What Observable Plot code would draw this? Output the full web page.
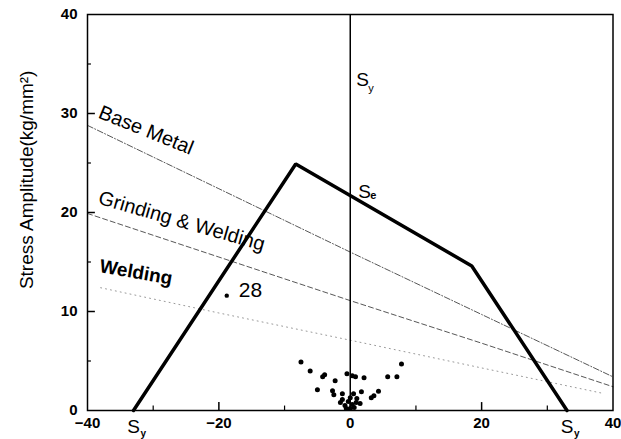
<!DOCTYPE html>
<html><head><meta charset="utf-8">
<script src="https://cdn.jsdelivr.net/npm/d3@7"></script>
<script src="https://cdn.jsdelivr.net/npm/@observablehq/plot@0.6"></script>
<style>html,body{margin:0;padding:0;background:#fff;overflow:hidden}</style>
</head><body><div id="chart"></div>
<script>
const xTicks = [-40, -20, 0, 20, 40];
const xMajorInner = [-20, 0, 20];
const xMinorTicks = [-30, -10, 10, 30];
const yTicks = [0, 10, 20, 30, 40];
const yMajorInner = [10, 20, 30];
const yMinorTicks = [5, 15, 25, 35];

const goodmanX = [-33, -8.3, 18.5, 33];
const goodmanY = [0, 24.9, 14.6, 0];

const baseMetalX = [-40, -20, 0, 20, 40];
const baseMetalY = [28.8, 22.4, 16.0, 9.7, 3.4];
const grindingX = [-40, -20, 0, 20, 40];
const grindingY = [19.9, 15.5, 11.1, 6.8, 2.4];
const weldingX = [-38, -20, 0, 20, 38.7];
const weldingY = [12.4, 9.85, 7.1, 4.3, 1.7];

const specimenX = [-7.5, -6.1, -4.2, -3.9, -2.3, -5.0, -2.7, -2.5, -1.2, -0.5, 0.3, 0.8, 2.1, 1.7, 0.5, 3.2, 3.6, 4.3, 5.7, 7.1, 7.8,
  -1.5, -0.8, -0.3, 0.3, 0.9, 1.5, 0.0, -0.6, 0.6, -1.2, 1.0, 0.0];
const specimenY = [4.9, 4.0, 3.4, 3.6, 3.0, 2.1, 2.0, 1.6, 1.7, 3.7, 3.5, 3.4, 3.3, 1.9, 1.7, 1.3, 1.5, 1.95, 3.4, 3.4, 4.7,
  0.8, 0.5, 0.9, 0.6, 0.8, 0.7, 0.2, 0.2, 0.3, 1.1, 1.2, 1.3];

const outlierX = [-18.8];
const outlierY = [11.6];
const outlierLabel = ["28"];

const yTitle = "Stress Amplitude(kg/mm²)";
const lineLabels = ["Base Metal", "Grinding & Welding", "Welding"];

const toXY = (xs, ys) => xs.map((x, i) => ({x, y: ys[i]}));
const FONT = "'Liberation Sans', Arial, Helvetica, sans-serif";

const chart = Plot.plot({
  width: 621,
  height: 439,
  marginLeft: 87,
  marginRight: 8.5,
  marginTop: 14,
  marginBottom: 29,
  style: {fontFamily: FONT, background: "white", color: "black", overflow: "visible"},
  x: {domain: [-40, 40]},
  y: {domain: [0, 40]},
  marks: [
    Plot.axisX(xTicks, {tickSize: 0, tickPadding: 7, fontSize: 15, fontWeight: "bold", label: null}),
    Plot.axisY(yTicks, {tickSize: 0, tickPadding: 10, fontSize: 15, fontWeight: "bold", label: null}),
    Plot.ruleX(xMajorInner, {x: d => d, y1: 0, y2: 0.8, stroke: "black", strokeWidth: 1.5}),
    Plot.ruleX(xMinorTicks, {x: d => d, y1: 0, y2: 0.45, stroke: "black", strokeWidth: 1.2}),
    Plot.ruleY(yMajorInner, {y: d => d, x1: -40, x2: -38.8, stroke: "black", strokeWidth: 1.5}),
    Plot.ruleY(yMinorTicks, {y: d => d, x1: -40, x2: -39.4, stroke: "black", strokeWidth: 1.2}),
    Plot.line(toXY(baseMetalX, baseMetalY), {x: "x", y: "y", stroke: "#444", strokeWidth: 0.9, strokeDasharray: "6,2,1,2"}),
    Plot.line(toXY(grindingX, grindingY), {x: "x", y: "y", stroke: "#444", strokeWidth: 0.9, strokeDasharray: "5,3"}),
    Plot.line(toXY(weldingX, weldingY), {x: "x", y: "y", stroke: "#999", strokeWidth: 1, strokeDasharray: "1,4"}),
    Plot.ruleX([0], {y1: 0, y2: 40, stroke: "black", strokeWidth: 1.5}),
    Plot.line(toXY(goodmanX, goodmanY), {x: "x", y: "y", stroke: "black", strokeWidth: 3.5, strokeLinejoin: "miter"}),
    Plot.dot(toXY(specimenX, specimenY), {x: "x", y: "y", r: 2.5, fill: "black", stroke: "none"}),
    Plot.dot(toXY(outlierX, outlierY), {x: "x", y: "y", r: 2.2, fill: "black", stroke: "none"}),
    Plot.text(toXY(outlierX, outlierY), {x: "x", y: "y", text: (d, i) => outlierLabel[i], dx: 12, dy: 1, textAnchor: "start", lineAnchor: "bottom", fontSize: 21}),
    // line labels
    Plot.text([lineLabels[0]], {x: -38.5, y: 29.6, text: d => d, rotate: 22, textAnchor: "start", lineAnchor: "bottom", fontSize: 20}),
    Plot.text([lineLabels[1]], {x: -38.5, y: 20.9, text: d => d, rotate: 16, textAnchor: "start", lineAnchor: "bottom", fontSize: 20}),
    Plot.text([lineLabels[2]], {x: -38.3, y: 14.0, text: d => d, rotate: 10, textAnchor: "start", lineAnchor: "bottom", fontSize: 19, fontWeight: "bold"}),
    // S labels
    Plot.text(["S"], {x: 0, y: 32.8, text: d => d, dx: 6, textAnchor: "start", lineAnchor: "bottom", fontSize: 19}),
    Plot.text(["y"], {x: 0, y: 32.8, text: d => d, dx: 18, dy: 6, textAnchor: "start", lineAnchor: "bottom", fontSize: 11}),
    Plot.text(["S"], {x: 0, y: 21.5, text: d => d, dx: 8, textAnchor: "start", lineAnchor: "bottom", fontSize: 19}),
    Plot.text(["e"], {x: 0, y: 21.5, text: d => d, dx: 20, dy: 1, textAnchor: "start", lineAnchor: "bottom", fontSize: 11, fontWeight: "bold"}),
    Plot.text(["S", "S"], {x: (d, i) => goodmanX[i === 0 ? 0 : 3], y: 0, text: d => d, dy: 22, textAnchor: "middle", lineAnchor: "bottom", fontSize: 19}),
    Plot.text(["y", "y"], {x: (d, i) => goodmanX[i === 0 ? 0 : 3], y: 0, text: d => d, dx: 7, dy: 26, textAnchor: "start", lineAnchor: "bottom", fontSize: 10, fontWeight: "bold"}),
    // y title
    Plot.text([yTitle], {x: -40, y: 23.3, text: d => d, dx: -55, rotate: -90, textAnchor: "middle", lineAnchor: "bottom", fontSize: 19}),
    Plot.frame({stroke: "black", strokeWidth: 1.5})
  ]
});
document.getElementById("chart").appendChild(chart);
</script>
</body></html>
